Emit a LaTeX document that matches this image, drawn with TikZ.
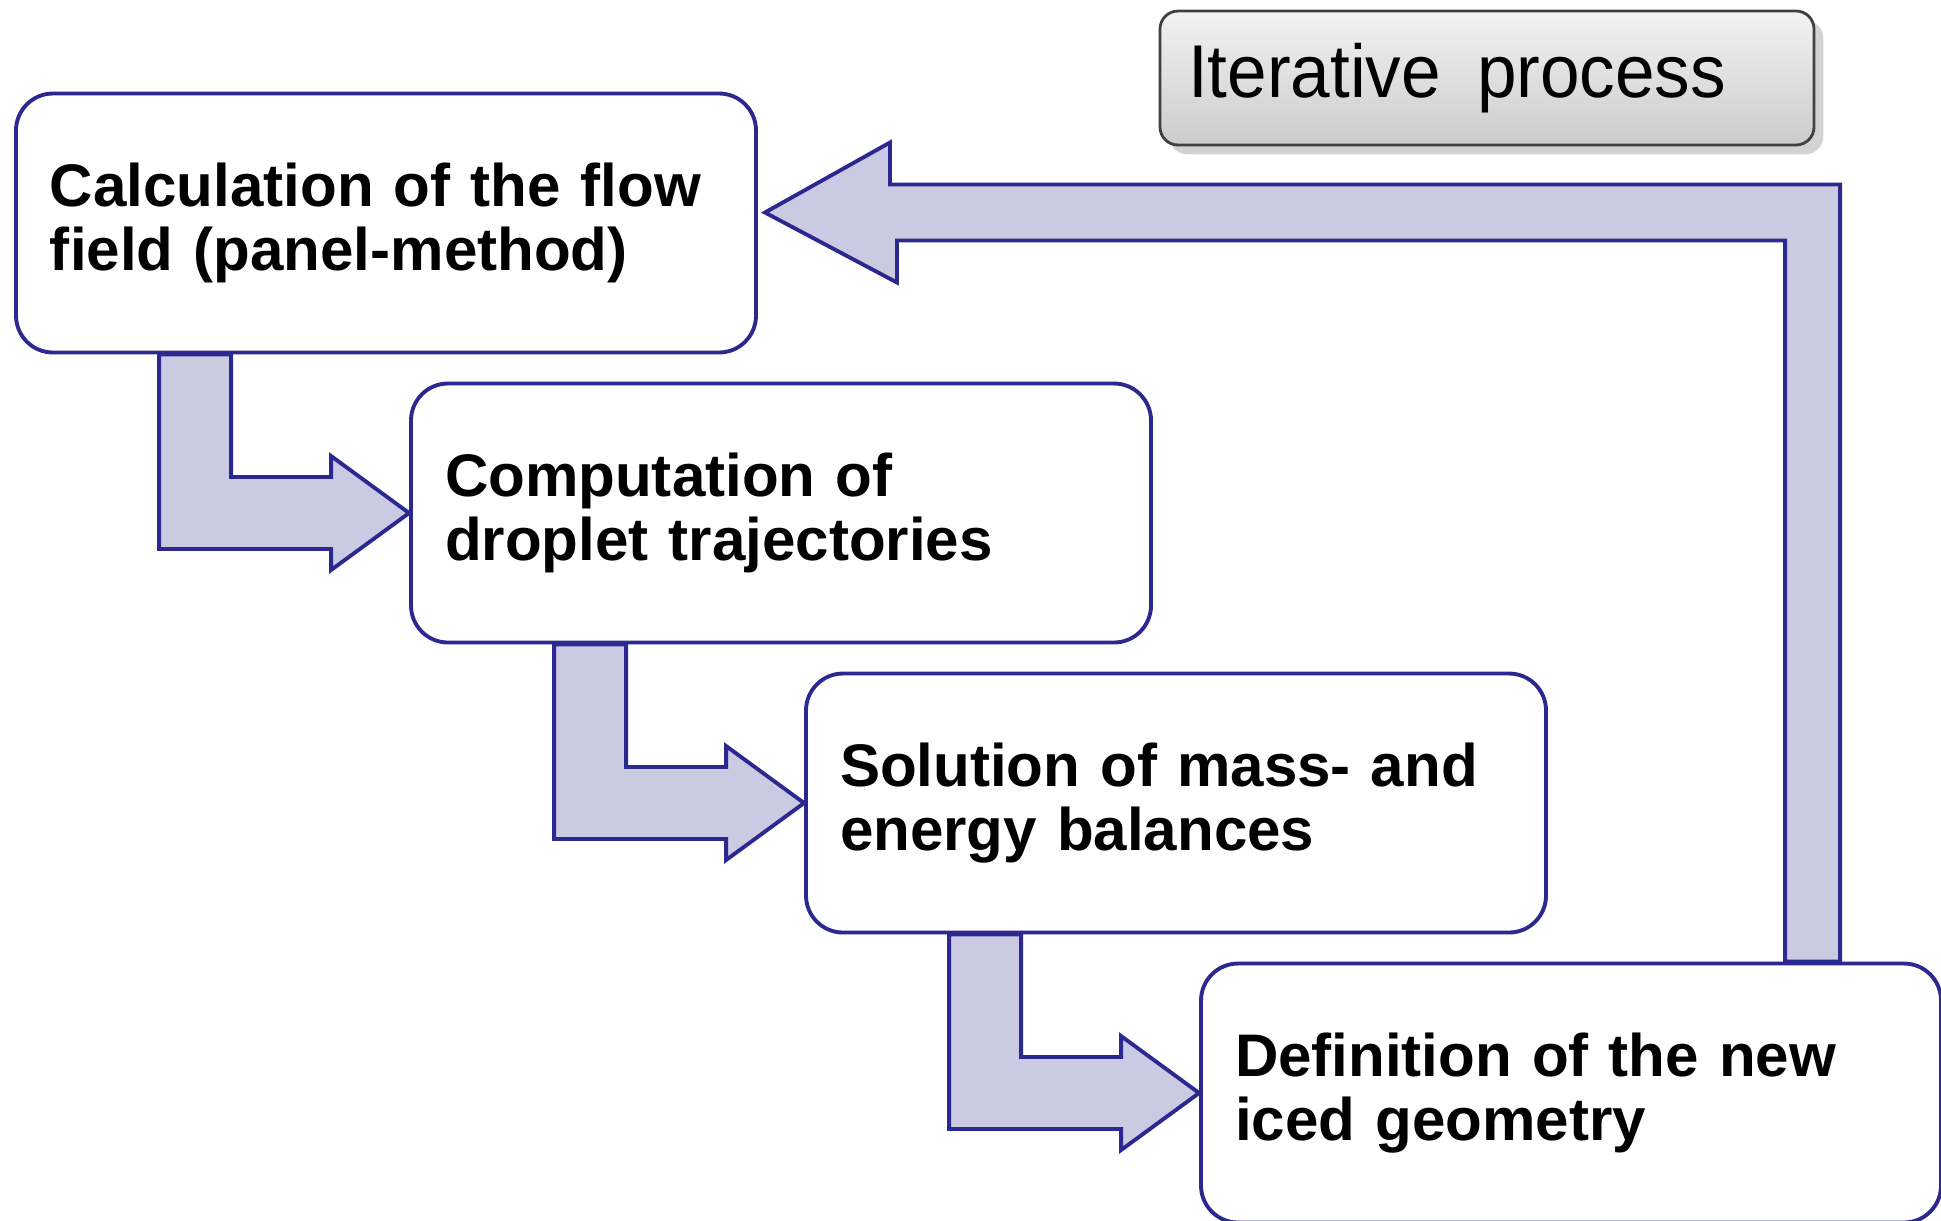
\documentclass[tikz,border=0pt]{standalone}
\usepackage{fontspec}
\setmainfont{Liberation Sans}
\newfontfamily\narrowfont[FakeStretch=0.95]{Liberation Sans}
\usepackage{tikz}
\usetikzlibrary{calc,shadows,positioning}
\definecolor{boxblue}{RGB}{43,40,143}
\definecolor{arrowfill}{RGB}{202,202,226}

\begin{document}
\begin{tikzpicture}[
		stage/.style={draw=boxblue, line width=1.1pt, fill=white, rounded corners=0.37cm,
			minimum width=7.4cm, minimum height=2.59cm, text width=6.72cm, inner xsep=0.34cm,
			align=left, font=\bfseries\fontsize{17.1}{18}\selectfont},
		loopbox/.style={draw=black!75, line width=0.8pt, rounded corners=0.18cm,
			top color=gray!10, bottom color=gray!40, drop shadow={opacity=0.35},
			minimum width=6.54cm, minimum height=1.34cm, text width=5.98cm, inner xsep=0.28cm,
			align=left, font=\narrowfont\fontsize{21.3}{24}\selectfont},
		blockarrow/.style={draw=boxblue, fill=arrowfill, line width=1.1pt, line join=miter}
	]
		
		\useasboundingbox (0,0) rectangle (19.41,-12.2);
		
		\node[loopbox] (loop) at (14.87,-0.78) {Iterative\hspace{0.15em} process};
		
		\node[stage] (calc) at (3.86,-2.23) {Calculation of the flow\\field (panel-method)};
		
		\node[stage] (comp) at (7.81,-5.13) {Computation of\\droplet trajectories};
		
		\node[stage] (sol) at (11.76,-8.03) {Solution of mass- and\\energy balances};
		
		\node[stage] (defi) at (15.71,-10.93) {Definition of the new\\iced geometry};
		
		\draw[blockarrow] ($(calc.south west)+(1.45,0)$) -- ++(0.72,0) |- ($(comp.west)+(-0.78,0.36)$)
		-- ++(0,0.21) -- (comp.west) -- ++(-0.78,-0.57) -- ++(0,0.21) -| ($(calc.south west)+(1.45,0)$) -- cycle;
		
		\draw[blockarrow] ($(comp.south west)+(1.45,0)$) -- ++(0.72,0) |- ($(sol.west)+(-0.78,0.36)$)
		-- ++(0,0.21) -- (sol.west) -- ++(-0.78,-0.57) -- ++(0,0.21) -| ($(comp.south west)+(1.45,0)$) -- cycle;
		
		\draw[blockarrow] ($(sol.south west)+(1.45,0)$) -- ++(0.72,0) |- ($(defi.west)+(-0.78,0.36)$)
		-- ++(0,0.21) -- (defi.west) -- ++(-0.78,-0.57) -- ++(0,0.21) -| ($(sol.south west)+(1.45,0)$) -- cycle;
		
		\draw[blockarrow] ($(defi.north west)+(6.41,0)$) |- ($(calc.east)+(1.32,0.385)$) -- ++(0,0.42)
		-- ($(calc.east)+(0.07,0.105)$) -- ++(1.32,-0.70) -- ++(0,0.42) -| ($(defi.north west)+(5.86,0)$) -- cycle;
		
	\end{tikzpicture}
\end{document}
